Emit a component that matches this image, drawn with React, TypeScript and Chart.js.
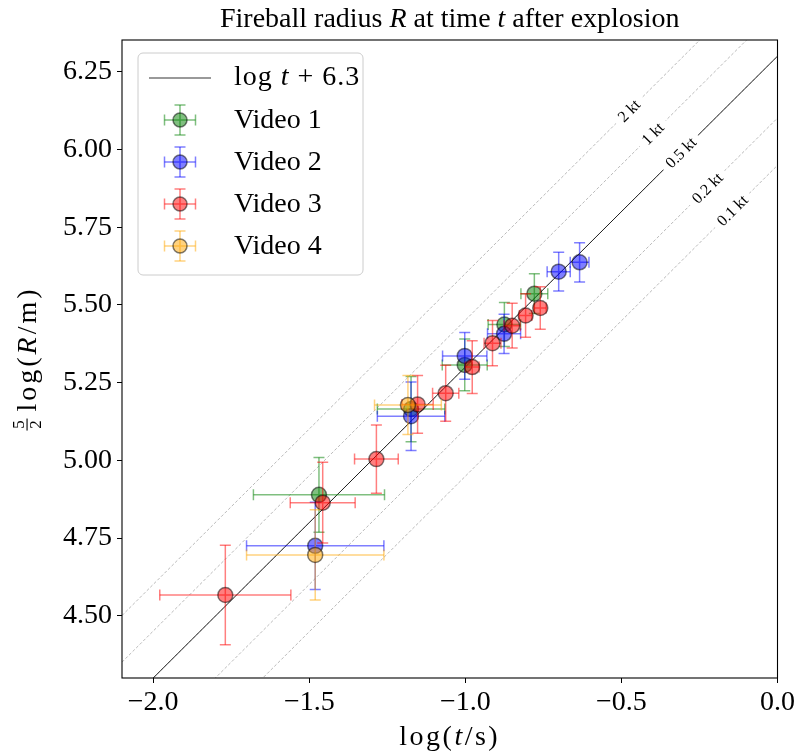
import React, { useEffect, useRef } from 'react';
import { Chart, registerables } from 'chart.js';

Chart.register(...registerables);

// ---------- data ----------
const xTicks = [-2.0, -1.5, -1.0, -0.5, 0.0];
const yTicks = [4.5, 4.75, 5.0, 5.25, 5.5, 5.75, 6.0, 6.25];
const xMin = -2.1;
const xMax = 0.0;
const yMin = 4.3;
const yMax = 6.352;

const fitOffset = 6.3;
const fitLabel = 'log t + 6.3';

const ktLabels = ['2 kt', '1 kt', '0.5 kt', '0.2 kt', '0.1 kt'];
const ktOffsets = [6.601, 6.451, 6.3, 6.101, 5.949];
const ktLabelX = [-0.476, -0.4, -0.31, -0.225, -0.145];

const seriesNames = ['Video 1', 'Video 2', 'Video 3', 'Video 4'];
const seriesColors = ['0,128,0', '0,0,255', '255,0,0', '255,165,0'];

const v1T = [-1.469, -1.174, -1.002, -0.875, -0.779];
const v1R = [4.889, 5.165, 5.307, 5.437, 5.536];
const v1TErr = [0.21, 0.108, 0.072, 0.052, 0.043];
const v1RErr = [0.12, 0.105, 0.083, 0.071, 0.064];

const v2T = [-1.481, -1.174, -1.002, -0.876, -0.701, -0.634];
const v2R = [4.725, 5.142, 5.336, 5.407, 5.607, 5.637];
const v2TErr = [0.22, 0.108, 0.071, 0.053, 0.037, 0.03];
const v2RErr = [0.14, 0.11, 0.075, 0.063, 0.062, 0.063];

const v3T = [-1.769, -1.457, -1.285, -1.153, -1.063, -0.978, -0.913, -0.85, -0.807, -0.76];
const v3R = [4.567, 4.864, 5.004, 5.18, 5.216, 5.3, 5.377, 5.433, 5.466, 5.49];
const v3TErr = [0.21, 0.104, 0.07, 0.05, 0.042, 0.022, 0.027, 0.026, 0.02, 0.019];
const v3RErr = [0.16, 0.13, 0.11, 0.093, 0.09, 0.085, 0.073, 0.072, 0.07, 0.068];

const v4T = [-1.481, -1.184];
const v4R = [4.696, 5.178];
const v4TErr = [0.22, 0.107];
const v4RErr = [0.145, 0.095];

const seriesT = [v1T, v2T, v3T, v4T];
const seriesR = [v1R, v2R, v3R, v4R];
const seriesTErr = [v1TErr, v2TErr, v3TErr, v4TErr];
const seriesRErr = [v1RErr, v2RErr, v3RErr, v4RErr];

// ---------- style ----------
const SERIF = '"Liberation Serif", "DejaVu Serif", serif';
const FS = 28;
const CAP = 5.5;

type Part = [string, boolean];

function drawRich(ctx: any, parts: Part[], x: number, y: number, size: number, align: 'center' | 'left', spacing = 0) {
  ctx.letterSpacing = `${spacing}px`;
  const fonts = parts.map(([, it]) => `${it ? 'italic ' : ''}${size}px ${SERIF}`);
  const widths = parts.map(([t], i) => { ctx.font = fonts[i]; return ctx.measureText(t).width; });
  const total = widths.reduce((a, b) => a + b, 0);
  let cx = align === 'center' ? x - total / 2 : x;
  ctx.textAlign = 'left';
  parts.forEach(([t], i) => {
    ctx.font = fonts[i];
    ctx.fillText(t, cx, y);
    cx += widths[i];
  });
  ctx.letterSpacing = '0px';
  return total;
}

function measureRich(ctx: any, parts: Part[], size: number, spacing = 0) {
  ctx.letterSpacing = `${spacing}px`;
  let w = 0;
  parts.forEach(([t, it]) => { ctx.font = `${it ? 'italic ' : ''}${size}px ${SERIF}`; w += ctx.measureText(t).width; });
  ctx.letterSpacing = '0px';
  return w;
}

function drawErrGlyph(ctx: CanvasRenderingContext2D, cx: number, cy: number, rgb: string, hx: number, hy: number, r: number) {
  ctx.save();
  ctx.strokeStyle = `rgba(${rgb},0.5)`;
  ctx.lineWidth = 1.5;
  ctx.beginPath();
  ctx.moveTo(cx - hx, cy); ctx.lineTo(cx + hx, cy);
  ctx.moveTo(cx, cy - hy); ctx.lineTo(cx, cy + hy);
  ctx.stroke();
  ctx.beginPath();
  ctx.moveTo(cx - hx, cy - CAP); ctx.lineTo(cx - hx, cy + CAP);
  ctx.moveTo(cx + hx, cy - CAP); ctx.lineTo(cx + hx, cy + CAP);
  ctx.moveTo(cx - CAP, cy - hy); ctx.lineTo(cx + CAP, cy - hy);
  ctx.moveTo(cx - CAP, cy + hy); ctx.lineTo(cx + CAP, cy + hy);
  ctx.stroke();
  if (r > 0) {
    ctx.beginPath();
    ctx.arc(cx, cy, r, 0, Math.PI * 2);
    ctx.fillStyle = `rgba(${rgb},0.5)`;
    ctx.fill();
    ctx.strokeStyle = 'rgba(0,0,0,0.5)';
    ctx.stroke();
  }
  ctx.restore();
}

const errorBarPlugin = {
  id: 'errorBars',
  beforeDatasetDraw(chart: any, args: any) {
    const ds = chart.data.datasets[args.index];
    if (!ds.errX) return;
    const { ctx, chartArea, scales } = chart;
    const x = scales.x, y = scales.y;
    ctx.save();
    ctx.beginPath();
    ctx.rect(chartArea.left, chartArea.top, chartArea.right - chartArea.left, chartArea.bottom - chartArea.top);
    ctx.clip();
    ctx.strokeStyle = `rgba(${ds.rgb},0.5)`;
    ctx.lineWidth = 1.5;
    ds.data.forEach((p: any, i: number) => {
      const cx = x.getPixelForValue(p.x), cy = y.getPixelForValue(p.y);
      const x0 = x.getPixelForValue(p.x - ds.errX[i]), x1 = x.getPixelForValue(p.x + ds.errX[i]);
      const y0 = y.getPixelForValue(p.y - ds.errY[i]), y1 = y.getPixelForValue(p.y + ds.errY[i]);
      ctx.beginPath();
      ctx.moveTo(x0, cy); ctx.lineTo(x1, cy);
      ctx.moveTo(cx, y0); ctx.lineTo(cx, y1);
      ctx.stroke();
      ctx.beginPath();
      ctx.moveTo(x0, cy - CAP); ctx.lineTo(x0, cy + CAP);
      ctx.moveTo(x1, cy - CAP); ctx.lineTo(x1, cy + CAP);
      ctx.moveTo(cx - CAP, y0); ctx.lineTo(cx + CAP, y0);
      ctx.moveTo(cx - CAP, y1); ctx.lineTo(cx + CAP, y1);
      ctx.stroke();
    });
    ctx.restore();
  },
};

const decorPlugin = {
  id: 'decor',
  afterDatasetsDraw(chart: any) {
    const { ctx, scales } = chart;
    const x = scales.x, y = scales.y;
    ctx.save();
    ktLabels.forEach((lab, i) => {
      const lx = ktLabelX[i];
      const px = x.getPixelForValue(lx), py = y.getPixelForValue(lx + ktOffsets[i]);
      const p2x = x.getPixelForValue(lx + 0.1), p2y = y.getPixelForValue(lx + 0.1 + ktOffsets[i]);
      const ang = Math.atan2(p2y - py, p2x - px);
      ctx.save();
      ctx.translate(px, py);
      ctx.rotate(ang);
      ctx.font = `16px ${SERIF}`;
      const w = ctx.measureText(lab).width;
      ctx.fillStyle = '#ffffff';
      ctx.fillRect(-w / 2 - 6, -9, w + 12, 18);
      ctx.fillStyle = '#000000';
      ctx.textAlign = 'center';
      ctx.textBaseline = 'middle';
      ctx.fillText(lab, 0, 1);
      ctx.restore();
    });
    ctx.restore();
  },
  afterDraw(chart: any) {
    const { ctx, chartArea } = chart;
    ctx.save();
    ctx.strokeStyle = '#000';
    ctx.lineWidth = 1.1;
    ctx.strokeRect(chartArea.left, chartArea.top, chartArea.right - chartArea.left, chartArea.bottom - chartArea.top);

    ctx.fillStyle = '#000';
    ctx.textBaseline = 'alphabetic';
    const cxPlot = (chartArea.left + chartArea.right) / 2;
    // title
    drawRich(ctx, [['Fireball radius ', false], ['R', true], [' at time ', false], ['t', true], [' after explosion', false]],
      cxPlot, 27, FS, 'center');
    // x label
    drawRich(ctx, [['log(', false], ['t', true], ['/s)', false]], cxPlot, 745, FS, 'center', 2.5);
    // y label
    ctx.save();
    ctx.translate(36, (chartArea.top + chartArea.bottom) / 2);
    ctx.rotate(-Math.PI / 2);
    const mainParts: Part[] = [['log(', false], ['R', true], ['/m)', false]];
    const mw = measureRich(ctx, mainParts, FS, 3);
    const fracW = 14;
    const total = fracW + 6 + mw;
    const sx = -total / 2;
    ctx.font = `17px ${SERIF}`;
    ctx.textAlign = 'center';
    ctx.textBaseline = 'alphabetic';
    ctx.fillText('5', sx + fracW / 2, -12);
    ctx.fillText('2', sx + fracW / 2, 5);
    ctx.fillRect(sx + 1, -9.5, fracW - 2, 1.1);
    drawRich(ctx, mainParts, sx + fracW + 6, 0, FS, 'left', 3);
    ctx.restore();

    // legend
    const lx = 138, ly = 53, lw = 225, lh = 222;
    ctx.beginPath();
    const r = 5;
    ctx.moveTo(lx + r, ly);
    ctx.arcTo(lx + lw, ly, lx + lw, ly + lh, r);
    ctx.arcTo(lx + lw, ly + lh, lx, ly + lh, r);
    ctx.arcTo(lx, ly + lh, lx, ly, r);
    ctx.arcTo(lx, ly, lx + lw, ly, r);
    ctx.closePath();
    ctx.fillStyle = 'rgba(255,255,255,0.85)';
    ctx.fill();
    ctx.strokeStyle = '#cccccc';
    ctx.lineWidth = 1;
    ctx.stroke();

    const rowY = [78, 120, 162, 204, 246];
    const textX = 234;
    ctx.strokeStyle = 'rgba(0,0,0,0.8)';
    ctx.lineWidth = 1;
    ctx.beginPath();
    ctx.moveTo(149, rowY[0]); ctx.lineTo(211, rowY[0]);
    ctx.stroke();
    ctx.fillStyle = '#000';
    ctx.textBaseline = 'middle';
    drawRich(ctx, [['log ', false], ['t', true], [' + 6.3', false]], textX, rowY[0], FS, 'left', 1);
    seriesNames.forEach((n, i) => {
      drawErrGlyph(ctx, 180, rowY[i + 1], seriesColors[i], 15.5, 15, 7);
      ctx.fillStyle = '#000';
      ctx.textBaseline = 'middle';
      drawRich(ctx, [[n, false]], textX, rowY[i + 1] + 1, FS, 'left');
    });
    ctx.restore();
  },
};

export default function App() {
  const ref = useRef<HTMLCanvasElement | null>(null);
  useEffect(() => {
    if (!ref.current) return;
    const datasets: any[] = [];
    ktOffsets.forEach((off, i) => {
      datasets.push({
        type: 'line',
        label: ktLabels[i],
        data: [{ x: xMin, y: xMin + off }, { x: xMax, y: xMax + off }],
        borderColor: 'rgba(0,0,0,0.35)',
        borderWidth: 0.8,
        borderDash: [3, 2],
        pointRadius: 0,
        order: 10,
      });
    });
    datasets.push({
      type: 'line',
      label: fitLabel,
      data: [{ x: xMin, y: xMin + fitOffset }, { x: xMax, y: xMax + fitOffset }],
      borderColor: 'rgba(0,0,0,0.85)',
      borderWidth: 1,
      pointRadius: 0,
      order: 9,
    });
    seriesNames.forEach((n, i) => {
      datasets.push({
        type: 'scatter',
        label: n,
        data: seriesT[i].map((t, j) => ({ x: t, y: seriesR[i][j] })),
        errX: seriesTErr[i],
        errY: seriesRErr[i],
        rgb: seriesColors[i],
        backgroundColor: `rgba(${seriesColors[i]},0.5)`,
        borderColor: 'rgba(0,0,0,0.5)',
        borderWidth: 1.5,
        pointRadius: 7.5,
        order: 4 - i,
      });
    });
    const tickFont = { family: SERIF, size: FS };
    const chart = new Chart(ref.current, {
      type: 'scatter',
      data: { datasets },
      options: {
        animation: false,
        responsive: false,
        layout: { padding: { left: 0, right: 19, top: 40, bottom: 0 } },
        plugins: { legend: { display: false }, tooltip: { enabled: false }, title: { display: false } },
        scales: {
          x: {
            type: 'linear',
            min: xMin,
            max: xMax,
            afterBuildTicks: (s: any) => { s.ticks = xTicks.map((v) => ({ value: v })); },
            afterFit: (s: any) => { s.height = 77; },
            ticks: {
              font: tickFont,
              color: '#000',
              padding: 3,
              maxRotation: 0,
              callback: (v: any) => Number(v).toFixed(1).replace('-', '\u2212'),
            },
            grid: { display: true, drawOnChartArea: false, drawTicks: true, tickLength: 5, color: '#000', lineWidth: 1 },
            border: { display: false },
          },
          y: {
            type: 'linear',
            min: yMin,
            max: yMax,
            afterBuildTicks: (s: any) => { s.ticks = yTicks.map((v) => ({ value: v })); },
            afterFit: (s: any) => { s.width = 122; },
            ticks: {
              font: tickFont,
              color: '#000',
              padding: 5,
              callback: (v: any) => Number(v).toFixed(2),
            },
            grid: { display: true, drawOnChartArea: false, drawTicks: true, tickLength: 5, color: '#000', lineWidth: 1 },
            border: { display: false },
          },
        },
      },
      plugins: [errorBarPlugin, decorPlugin],
    } as any);
    return () => chart.destroy();
  }, []);
  return (
    <div style={{ position: 'absolute', left: 0, top: 0, width: 798, height: 755, background: '#fff' }}>
      <canvas ref={ref} width={798} height={755} style={{ display: 'block' }} />
    </div>
  );
}
